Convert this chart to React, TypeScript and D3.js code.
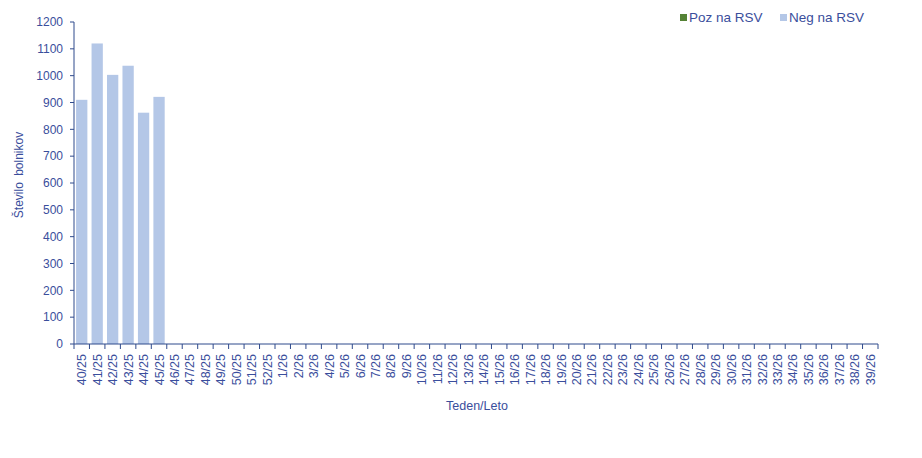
import React from "react";
import * as d3 from "d3";

const weeks: string[] = [
  "40/25","41/25","42/25","43/25","44/25","45/25","46/25","47/25","48/25","49/25","50/25","51/25","52/25",
  "1/26","2/26","3/26","4/26","5/26","6/26","7/26","8/26","9/26","10/26","11/26","12/26","13/26",
  "14/26","15/26","16/26","17/26","18/26","19/26","20/26","21/26","22/26","23/26","24/26","25/26","26/26",
  "27/26","28/26","29/26","30/26","31/26","32/26","33/26","34/26","35/26","36/26","37/26","38/26","39/26",
];
const pozValues: number[] = [0, 0, 0, 0, 0, 0];
const negValues: number[] = [910, 1120, 1003, 1037, 862, 921];
const yTicks: number[] = [0, 100, 200, 300, 400, 500, 600, 700, 800, 900, 1000, 1100, 1200];

const W = 922, H = 458;
const M = { left: 74, right: 44, top: 22, bottom: 114 };
const TEXT = "#3A4E9C";
const AXIS = "#2F4A8C";
const FONT = "Liberation Sans, Arial, sans-serif";

export default function App() {
  const x = d3.scaleBand<string>().domain(weeks).range([M.left, W - M.right]).paddingInner(0.27).paddingOuter(0.135);
  const y = d3.scaleLinear().domain([0, 1200]).range([H - M.bottom, M.top]);
  const y0 = y(0);
  const step = x.step();
  const start = M.left;
  return (
    <svg width={W} height={H} style={{ position: "absolute", left: 0, top: 0, fontFamily: FONT }}>
      {weeks.map((w, i) => {
        const p = pozValues[i] ?? 0;
        const n = negValues[i] ?? 0;
        return (
          <g key={w}>
            {p > 0 && <rect x={x(w)} width={x.bandwidth()} y={y(p)} height={y0 - y(p)} fill="#548235" />}
            {n > 0 && <rect x={x(w)} width={x.bandwidth()} y={y(p + n)} height={y(p) - y(p + n)} fill="#B4C7E7" />}
          </g>
        );
      })}
      {/* y axis */}
      <line x1={M.left} x2={M.left} y1={M.top} y2={y0} stroke={AXIS} strokeWidth={1} />
      {yTicks.map((t) => (
        <g key={t}>
          <line x1={M.left - 4} x2={M.left} y1={y(t)} y2={y(t)} stroke={AXIS} />
          <text x={M.left - 11} y={y(t)} dy="0.35em" textAnchor="end" fontSize={12} fill={TEXT}>{t}</text>
        </g>
      ))}
      {/* x axis */}
      <line x1={M.left} x2={W - M.right} y1={y0} y2={y0} stroke={AXIS} />
      {d3.range(weeks.length + 1).map((i) => (
        <line key={i} x1={start + i * step} x2={start + i * step} y1={y0} y2={y0 + 5} stroke={AXIS} />
      ))}
      {weeks.map((w) => {
        const cx = (x(w) as number) + x.bandwidth() / 2;
        return (
          <text key={w} transform={`translate(${cx + 4.5},${y0 + 10}) rotate(-90)`} textAnchor="end" fontSize={12.5} fill={TEXT}>{w}</text>
        );
      })}
      <text x={477} y={410} textAnchor="middle" fontSize={12.5} fill={TEXT}>Teden/Leto</text>
      <text transform={`translate(23,175) rotate(-90)`} textAnchor="middle" fontSize={12} fill={TEXT} wordSpacing={3}>Število bolnikov</text>
      {/* legend */}
      <rect x={680} y={14} width={7} height={7} fill="#548235" />
      <text x={689} y={22} fontSize={13.5} fill={TEXT}>Poz na RSV</text>
      <rect x={780} y={14} width={7} height={7} fill="#B4C7E7" />
      <text x={789} y={22} fontSize={13.5} fill={TEXT}>Neg na RSV</text>
    </svg>
  );
}
